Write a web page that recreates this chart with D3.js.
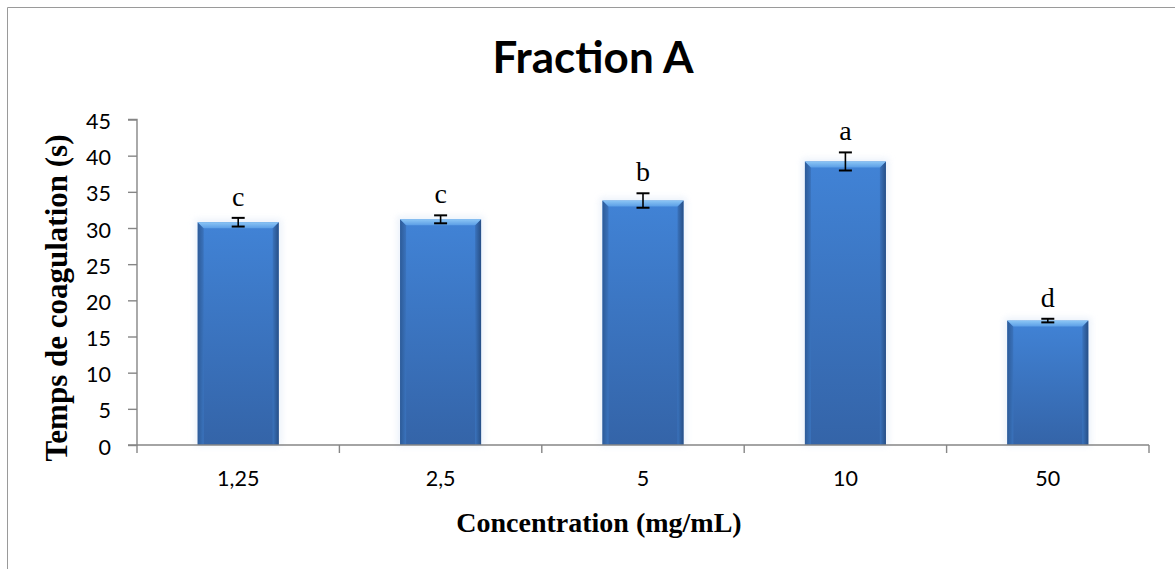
<!DOCTYPE html>
<html><head><meta charset="utf-8">
<script src="https://cdn.jsdelivr.net/npm/d3@7"></script>
<style>body{margin:0;background:#fff} svg{display:block}</style>
</head><body><svg id="c" width="1175" height="569"></svg>
<script>
const categories = ["1,25", "2,5", "5", "10", "50"];
const values = [30.8, 31.2, 33.8, 39.2, 17.2];
const errors = [0.6, 0.55, 1.0, 1.25, 0.25];
const letters = ["c", "c", "b", "a", "d"];
const yTicks = [0, 5, 10, 15, 20, 25, 30, 35, 40, 45];
const titleText = "Fraction A";
const xTitle = "Concentration (mg/mL)";
const yTitle = "Temps de coagulation (s)";

const svg = d3.select("#c");
const axisCol = "#868686";

// outer frame (top & left visible)
svg.append("line").attr("x1", 7.5).attr("x2", 1175).attr("y1", 7.5).attr("y2", 7.5).attr("stroke", "#9a9a9a").attr("stroke-width", 1);
svg.append("line").attr("x1", 7.5).attr("x2", 7.5).attr("y1", 7.5).attr("y2", 569).attr("stroke", "#9a9a9a").attr("stroke-width", 1);

const y = d3.scaleLinear().domain([0, 45]).range([445, 119.5]);
const x = d3.scaleBand().domain(categories).range([137, 1149]).paddingInner(0.6).paddingOuter(0.3);

const defs = svg.append("defs");
const gBody = defs.append("linearGradient").attr("id", "body").attr("x1", 0).attr("y1", 0).attr("x2", 0).attr("y2", 1);
gBody.append("stop").attr("offset", "0%").attr("stop-color", "#4183d6");
gBody.append("stop").attr("offset", "100%").attr("stop-color", "#3464a8");
const gTop = defs.append("linearGradient").attr("id", "topb").attr("x1", 0).attr("y1", 0).attr("x2", 0).attr("y2", 1);
gTop.append("stop").attr("offset", "0%").attr("stop-color", "#8cc6f5");
gTop.append("stop").attr("offset", "100%").attr("stop-color", "#5b9ee6");
const gSideL = defs.append("linearGradient").attr("id", "sideL").attr("x1", 0).attr("y1", 0).attr("x2", 1).attr("y2", 0);
gSideL.append("stop").attr("offset", "0%").attr("stop-color", "#2d5b98");
gSideL.append("stop").attr("offset", "100%").attr("stop-color", "#3a73bd");
const gSideR = defs.append("linearGradient").attr("id", "sideR").attr("x1", 0).attr("y1", 0).attr("x2", 1).attr("y2", 0);
gSideR.append("stop").attr("offset", "0%").attr("stop-color", "#3a73bd");
gSideR.append("stop").attr("offset", "100%").attr("stop-color", "#274f86");
const glow = defs.append("filter").attr("id", "glow").attr("x", "-20%").attr("y", "-20%").attr("width", "140%").attr("height", "140%");
glow.append("feGaussianBlur").attr("stdDeviation", 3);

const data = categories.map((c, i) => ({c, v: values[i], e: errors[i], l: letters[i]}));
const bw = x.bandwidth();
const b = 6;

const bars = svg.append("g").selectAll("g").data(data).join("g");
// soft halo
bars.append("rect")
  .attr("x", d => x(d.c) - 3).attr("y", d => y(d.v) - 3)
  .attr("width", bw + 6).attr("height", d => y(0) - y(d.v) + 4)
  .attr("fill", "#dfe9f7").attr("opacity", 0.6).attr("filter", "url(#glow)");
bars.append("rect")
  .attr("x", d => x(d.c)).attr("y", d => y(d.v))
  .attr("width", bw).attr("height", d => y(0) - y(d.v))
  .attr("fill", "url(#body)");
bars.append("polygon").attr("fill", "url(#sideL)")
  .attr("points", d => { const x0 = x(d.c), y0 = y(d.v), yb = y(0); return [[x0, y0], [x0 + b, y0 + b], [x0 + b, yb], [x0, yb]].join(" "); });
bars.append("polygon").attr("fill", "url(#sideR)")
  .attr("points", d => { const x1 = x(d.c) + bw, y0 = y(d.v), yb = y(0); return [[x1, y0], [x1 - b, y0 + b], [x1 - b, yb], [x1, yb]].join(" "); });
bars.append("polygon").attr("fill", "url(#topb)")
  .attr("points", d => { const x0 = x(d.c), x1 = x0 + bw, y0 = y(d.v); return [[x0, y0], [x1, y0], [x1 - b, y0 + b], [x0 + b, y0 + b]].join(" "); });

// error bars
const eb = svg.append("g").attr("stroke", "#000");
data.forEach(d => {
  const cx = x(d.c) + bw / 2;
  eb.append("line").attr("x1", cx).attr("x2", cx).attr("y1", y(d.v - d.e)).attr("y2", y(d.v + d.e)).attr("stroke-width", 1.6);
  [d.v - d.e, d.v + d.e].forEach(v => eb.append("line").attr("x1", cx - 6.5).attr("x2", cx + 6.5).attr("y1", y(v)).attr("y2", y(v)).attr("stroke-width", 2));
});

// letters
svg.append("g").selectAll("text").data(data).join("text")
  .attr("x", d => x(d.c) + bw / 2).attr("y", d => y(d.v + d.e) - 12)
  .attr("text-anchor", "middle").attr("font-family", "'Liberation Serif', serif").attr("font-size", 28)
  .attr("fill", "#000").text(d => d.l);

// y axis
const yAxis = svg.append("g").attr("transform", "translate(137,0)")
  .call(d3.axisLeft(y).tickValues(yTicks).tickSize(9).tickPadding(17).tickFormat(d3.format("d")));
yAxis.selectAll("line,path").attr("stroke", axisCol).attr("stroke-width", 1.4);
yAxis.select(".domain").attr("d", `M-9,${y(45)}H0V${y(0)}H-9`);
yAxis.selectAll("text").attr("font-family", "Lato, sans-serif").attr("font-size", 21.5).attr("fill", "#000").attr("dy", "0.42em");

// x axis
const xAxis = svg.append("g").attr("transform", `translate(0,${y(0)})`)
  .call(d3.axisBottom(x).tickSize(0).tickPadding(26));
xAxis.select(".domain").attr("stroke", axisCol).attr("stroke-width", 1.4).attr("d", `M${x.range()[0]},0H${x.range()[1]}`);
xAxis.selectAll("text").attr("font-family", "Lato, sans-serif").attr("font-size", 21.5).attr("fill", "#000");
d3.range(categories.length + 1).forEach(i => {
  const tx = x.range()[0] + i * x.step();
  xAxis.append("line").attr("x1", tx).attr("x2", tx).attr("y1", 0).attr("y2", 8).attr("stroke", axisCol).attr("stroke-width", 1.4);
});

// titles
svg.append("text").attr("x", 593).attr("y", 72.5).attr("text-anchor", "middle")
  .attr("font-family", "Lato, sans-serif").attr("font-weight", "bold").attr("font-size", 44).attr("fill", "#000").text(titleText);
svg.append("text").attr("x", 599).attr("y", 531.5).attr("text-anchor", "middle")
  .attr("font-family", "'Liberation Serif', serif").attr("font-weight", "bold").attr("font-size", 28).attr("fill", "#000").text(xTitle);
svg.append("text").attr("transform", "translate(67,298) rotate(-90)").attr("text-anchor", "middle")
  .attr("font-family", "'Liberation Serif', serif").attr("font-weight", "bold").attr("font-size", 31).attr("fill", "#000").text(yTitle);
</script></body></html>
